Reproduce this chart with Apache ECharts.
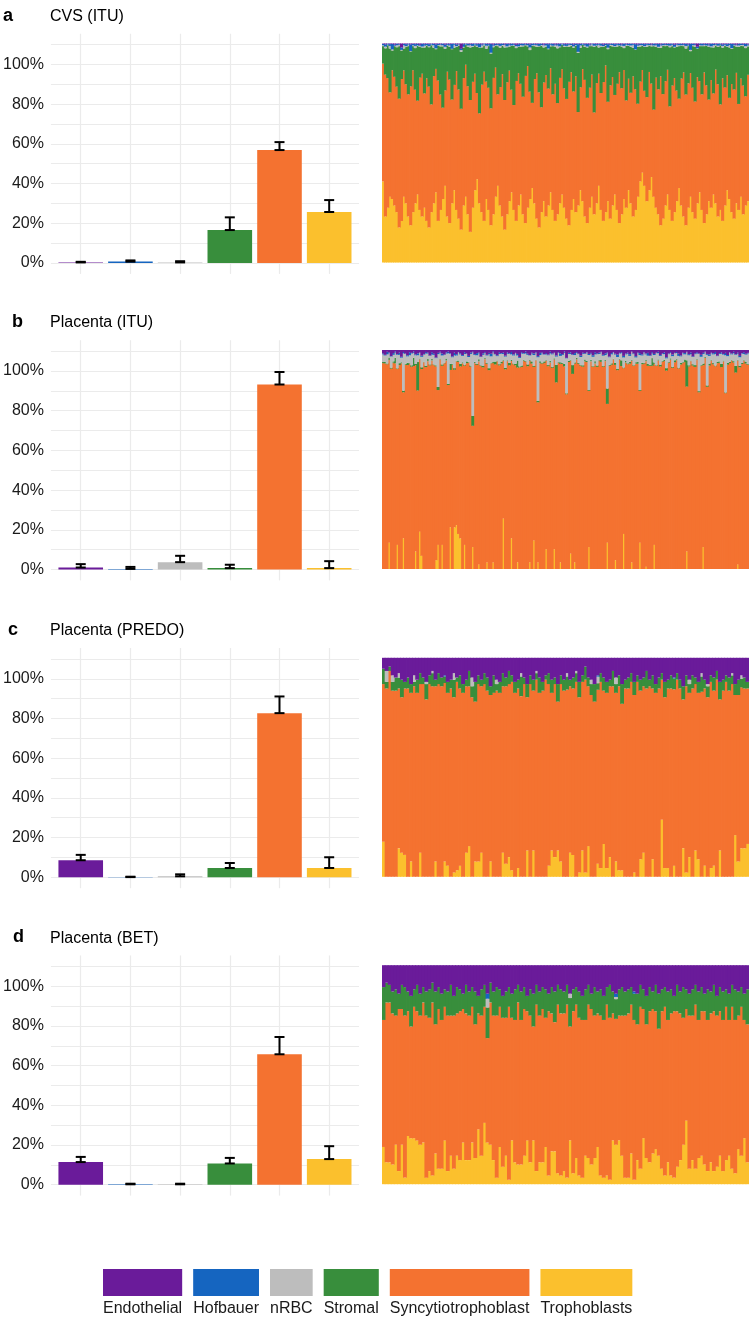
<!DOCTYPE html>
<html><head><meta charset="utf-8">
<script src="https://cdn.jsdelivr.net/npm/echarts@6/dist/echarts.min.js"></script>
<style>html,body{margin:0;padding:0;background:#fff}#c{width:749px;height:1321px}</style>
</head><body><div id="c"></div>
<script>
// ---------- categories ----------
const categories = ['Endothelial','Hofbauer','nRBC','Stromal','Syncytiotrophoblast','Trophoblasts'];
const yTickLabels = [0,20,40,60,80,100];
const yGridValues = [0,10,20,30,40,50,60,70,80,90,100,110];

// ---------- left bar charts: mean and upper error (%) ----------
const aMean  = [0.3, 0.7, 0.3, 16.6, 56.9, 25.7];
const aUpper = [0.6, 1.3, 0.9, 23.0, 60.9, 31.7];
const bMean  = [1.0, 0.3, 3.7, 0.7, 93.2, 0.7];
const bUpper = [2.7, 1.3, 6.9, 2.4, 99.5, 4.2];
const cMean  = [8.6, 0.1, 0.5, 4.7, 82.7, 4.7];
const cUpper = [11.3, 0.3, 1.5, 7.2, 91.1, 10.1];
const dMean  = [11.4, 0.2, 0.2, 10.7, 65.7, 12.9];
const dUpper = [14.0, 0.5, 0.5, 13.5, 74.4, 19.4];

// ---------- right stacked charts: per-sample proportions (%) ----------
// Panel a: CVS (ITU)
const aTroph = [37,21,25,30,29,26,23,16,19,30,27,21,17,23,27,31,24,21,25,19,
16,23,27,32,19,24,29,35,21,18,27,33,24,20,15,26,30,22,14,25,
33,38,27,23,19,29,24,17,22,30,35,26,21,15,22,28,32,24,19,26,
31,22,18,25,29,34,27,20,16,23,28,21,26,32,24,19,22,27,31,25,
20,17,24,29,23,26,33,28,21,18,25,30,22,27,35,24,19,23,28,20,
26,31,24,18,22,29,25,33,27,21,24,30,37,41,35,28,33,39,30,25,
22,17,20,26,31,24,19,23,28,34,26,21,17,25,30,23,20,27,32,24,
18,22,28,25,31,27,21,24,19,26,33,29,23,20,27,24,30,22,26,28];
const aStrom = [8,12,15,20,9,14,18,24,13,10,17,22,16,11,19,25,14,12,21,15,
18,27,13,9,16,22,28,19,12,15,23,17,11,20,26,14,9,18,24,16,
13,21,30,17,12,15,19,25,14,10,22,18,13,24,16,11,20,27,15,12,
17,23,14,9,19,26,15,12,21,28,16,13,18,10,22,17,25,14,11,19,
24,16,12,20,14,27,18,11,15,23,19,13,30,17,12,21,16,9,24,18,
14,22,17,12,19,10,25,15,21,13,18,26,16,11,20,23,12,17,29,14,
19,13,22,16,11,27,18,14,20,24,15,12,21,17,10,19,25,13,16,22,
12,18,24,15,21,11,17,27,14,19,13,23,16,20,12,26,15,18,22,13];
const aNrbc = [0.4,0.8,0.3,1.2,0.5,0.2,0.9,0.6,0.3,1.5,0.4,0.7,0.2,0.5,1.0,0.3,0.6,0.4,0.8,0.2,
0.5,0.3,1.1,0.4,0.2,0.7,0.5,0.9,0.3,0.6,0.2,1.3,0.4,0.5,0.8,0.3,0.2,0.6,1.0,0.4,
0.3,0.6,0.2,0.9,0.5,1.4,0.3,0.4,0.7,0.2,0.5,0.8,0.3,1.1,0.4,0.6,0.2,0.5,0.9,0.3,
0.7,0.4,0.2,0.5,1.2,0.3,0.6,0.8,0.2,0.4,1.0,0.5,0.3,0.7,0.2,0.6,1.3,0.4,0.3,0.5,
0.2,0.9,0.4,0.6,0.3,0.5,1.1,0.2,0.7,0.4,0.3,0.8,0.5,0.2,1.2,0.6,0.4,0.3,0.7,0.5,
0.6,0.3,0.8,0.2,0.5,1.0,0.4,0.3,0.6,1.4,0.2,0.5,0.7,0.3,0.4,0.9,0.2,0.6,0.3,0.8,
0.4,1.1,0.3,0.5,0.2,0.7,0.6,0.3,0.9,0.4,0.2,0.5,1.2,0.3,0.6,0.4,0.8,0.2,0.5,0.3,
0.5,0.2,0.7,0.4,1.0,0.3,0.6,0.2,0.8,0.5,0.3,1.1,0.4,0.2,0.6,0.7,0.3,0.5,0.9,0.4];
const aHof = [0.6,1.0,0.4,0.8,2.5,0.5,0.7,0.3,1.1,0.6,0.9,0.4,3.0,0.5,0.8,0.6,0.4,1.3,0.7,0.5,
0.9,0.4,0.6,1.8,0.5,0.3,0.7,1.0,0.4,0.6,2.2,0.5,0.8,0.3,0.6,1.2,0.4,0.7,0.5,0.9,
0.4,0.7,1.5,0.5,0.3,0.8,0.6,4.0,0.5,0.7,0.4,0.9,0.6,0.3,1.1,0.5,0.8,0.4,0.6,1.0,
0.5,0.8,0.3,0.6,1.4,0.7,0.4,0.5,0.9,0.6,0.3,0.7,2.0,0.5,0.8,0.4,0.6,1.1,0.3,0.7,
0.8,0.4,0.6,0.9,0.5,3.5,0.7,0.4,0.6,1.2,0.5,0.3,0.8,0.6,0.4,0.9,0.7,0.5,1.6,0.4,
0.6,0.9,0.4,0.7,0.5,1.0,0.3,0.6,0.8,0.4,2.4,0.6,0.5,0.7,0.9,0.4,0.6,0.3,0.8,0.5,
1.3,0.5,0.7,0.4,0.6,0.8,0.5,1.0,0.3,0.6,0.7,0.4,0.9,0.5,2.8,0.6,0.4,0.7,0.5,0.8,
0.4,0.7,0.5,1.2,0.6,0.3,0.8,0.5,0.7,0.4,0.9,0.6,1.9,0.5,0.3,0.7,0.6,0.4,1.0,0.5];
const aEndo = [0.2,0.4,0.1,0.3,0.2,0.5,0.1,0.3,1.8,0.2,0.3,0.1,0.4,0.2,0.3,0.2,0.6,0.1,0.3,0.2,
0.3,0.1,0.2,0.4,0.2,0.3,0.1,0.5,0.2,0.3,0.2,0.1,0.4,0.2,2.4,0.3,0.1,0.2,0.3,0.2,
0.1,0.3,0.2,0.4,0.1,0.2,0.3,0.2,0.5,0.1,0.3,0.2,0.1,0.4,0.2,0.3,0.1,0.2,0.6,0.3,
0.2,0.1,0.3,0.2,0.4,0.1,0.2,0.3,0.2,0.1,0.5,0.2,0.3,0.1,0.2,0.4,0.3,0.2,0.1,0.3,
0.3,0.2,0.1,0.4,0.2,0.3,0.2,0.1,0.3,0.2,0.4,0.1,0.2,0.3,0.2,0.1,0.5,0.2,0.3,0.2,
0.1,0.3,0.2,0.2,0.4,0.1,0.3,0.2,0.1,0.2,0.3,0.4,0.2,0.1,0.3,0.2,0.2,0.4,0.1,0.3,
0.2,0.4,0.1,0.3,0.2,0.2,0.1,0.5,0.3,0.2,0.1,0.3,0.2,0.4,0.1,0.2,0.3,1.5,0.2,0.1,
0.3,0.2,0.4,0.1,0.2,0.3,0.2,0.1,0.4,0.2,0.3,0.1,0.2,0.3,0.5,0.2,0.1,0.3,0.2,0.4];

// Panel b: Placenta (ITU)
const bEndo = [1.5,2.2,0.8,1.1,2.8,1.4,0.6,1.9,1.2,3.1,0.9,1.6,2.4,1.0,1.3,0.7,2.0,1.5,1.1,2.6,
1.8,0.9,1.2,2.5,1.0,1.7,3.4,1.3,0.8,1.6,2.1,1.1,0.7,1.4,2.9,1.2,1.9,0.9,1.5,2.3,
1.0,1.6,2.7,1.2,0.8,1.9,1.4,1.1,3.0,1.5,0.9,2.2,1.3,1.7,0.6,1.8,2.4,1.0,1.4,1.2,
2.6,1.1,1.5,0.9,2.0,1.3,1.8,3.2,1.0,1.4,0.7,1.7,2.3,1.2,1.6,0.9,2.8,1.3,1.1,1.9,
1.4,2.1,0.8,1.6,1.2,2.5,1.0,1.5,1.9,0.7,3.6,1.3,1.1,2.0,1.4,0.9,1.7,2.6,1.2,1.5,
0.9,1.8,1.3,2.4,1.0,1.6,1.2,0.8,2.2,1.5,1.1,3.0,1.4,0.9,1.7,2.1,1.3,1.0,2.7,1.6,
1.2,1.9,0.7,1.5,2.8,1.1,1.4,2.0,0.9,1.6,1.3,2.4,1.0,1.8,1.2,0.8,2.3,1.5,1.1,3.3,
1.6,1.0,2.1,1.3,0.9,1.7,2.5,1.2,1.4,0.8,1.9,1.1,2.9,1.5,1.0,1.6,2.2,1.3,0.7,1.8,
2.0,1.2,1.5,0.9,2.6,1.4,1.1,1.8,1.3,2.3,1.0,1.6,0.8,1.9,1.2,2.7,1.4,1.0,1.7,1.3];
const bHof = [0.5,0.3,1.2,0.4,0.2,0.8,0.6,0.3,1.0,0.4,0.7,0.2,0.5,1.4,0.3,0.6,0.4,0.9,0.2,0.5,
0.3,0.7,0.4,0.2,1.1,0.5,0.3,0.6,0.4,0.9,0.2,0.5,0.8,0.3,0.4,1.3,0.6,0.2,0.5,0.4,
0.8,0.2,0.5,0.6,0.3,0.4,1.0,0.5,0.2,0.7,0.4,0.3,0.6,1.2,0.5,0.2,0.4,0.8,0.3,0.6,
0.4,0.6,0.3,1.1,0.5,0.2,0.7,0.4,0.6,0.3,0.9,0.5,0.2,0.4,0.7,0.3,0.5,1.0,0.4,0.2,
0.6,0.3,0.8,0.4,0.2,0.5,0.3,1.2,0.4,0.6,0.2,0.5,0.7,0.3,0.9,0.4,0.2,0.6,0.5,0.3,
0.2,0.5,0.4,0.7,1.0,0.3,0.6,0.2,0.4,0.8,0.5,0.3,0.6,0.2,0.4,1.1,0.3,0.5,0.7,0.4,
0.5,0.8,0.2,0.4,0.6,0.3,0.9,0.5,0.2,0.4,1.3,0.3,0.6,0.5,0.2,0.7,0.4,0.3,0.8,0.5,
0.3,0.4,0.7,0.2,0.5,1.0,0.4,0.3,0.6,0.2,0.5,0.8,0.3,0.4,0.6,0.2,0.9,0.5,0.3,0.4,
0.7,0.3,0.5,0.9,0.2,0.4,0.6,0.3,1.1,0.5,0.2,0.4,0.7,0.3,0.5,0.6,0.2,0.8,0.4,0.3];
const bNrbc = [3.5,2.8,4.2,1.9,5.1,3.0,2.4,6.2,3.8,2.1,17,4.5,2.9,3.6,5.4,2.2,4.0,3.1,2.6,4.8,
3.2,5.6,2.5,3.9,2.0,4.4,3.3,15,2.7,4.1,3.5,2.3,14,4.6,3.0,5.8,2.4,3.7,4.3,2.9,
4.9,3.4,2.2,5.3,29,3.1,4.0,2.6,3.8,5.0,2.4,3.5,6.4,2.9,4.2,3.3,2.0,4.7,3.6,2.8,
5.2,3.0,4.1,2.5,3.7,4.8,2.3,3.9,5.5,2.7,3.4,4.4,2.1,3.6,4.9,3.2,20,2.8,4.3,3.1,
2.6,4.5,3.3,5.7,2.4,3.8,4.2,2.9,3.5,5.0,16,3.1,2.7,4.6,3.4,2.2,4.0,3.7,5.3,2.5,
3.9,16,2.8,4.3,3.1,5.2,2.6,3.6,4.7,2.3,16,3.5,4.1,2.9,3.8,5.5,2.4,3.2,4.6,3.0,
4.4,2.7,3.5,5.1,2.2,3.9,16,3.3,4.8,2.6,3.7,4.2,2.1,3.4,5.6,2.8,4.0,3.1,2.5,4.5,
3.6,2.4,4.9,3.2,2.8,5.4,3.0,4.1,2.3,3.7,4.6,2.9,3.3,5.0,2.6,17,3.8,4.4,2.2,14,
3.5,2.9,4.0,5.3,2.5,3.4,4.7,2.7,17,3.1,4.2,2.4,3.6,5.1,2.8,3.9,4.3,2.6,3.2,4.8];
const bStrom = [0.5,0.8,0.3,1.2,0.4,0.6,2.5,0.3,0.9,0.5,0.7,0.4,1.1,0.3,0.6,3.8,0.5,13,0.4,0.8,
0.3,0.6,1.0,0.4,0.7,0.3,0.5,1.4,0.4,0.6,0.3,0.9,0.5,2.8,0.4,0.7,0.3,0.6,1.2,0.5,
0.4,0.8,0.3,0.5,4.5,0.6,0.4,1.0,0.3,0.7,0.5,0.4,0.9,0.3,0.6,1.3,0.4,0.5,0.8,0.3,
0.6,0.4,1.1,0.5,0.3,0.7,3.2,0.4,0.6,0.5,0.3,0.8,0.4,1.0,0.5,0.3,0.6,0.9,0.4,0.7,
0.3,0.5,0.8,0.4,0.6,8,0.3,0.7,0.5,1.2,0.4,0.6,0.3,4.0,0.5,0.8,0.4,0.3,0.6,0.9,
0.5,0.4,0.7,0.3,1.1,0.6,0.4,0.8,0.3,0.5,7,0.4,0.6,0.3,0.9,0.5,0.4,2.6,0.3,0.7,
0.4,0.8,0.5,0.3,0.6,1.0,0.4,0.7,0.3,0.5,0.9,0.4,3.5,0.6,0.3,0.5,0.8,0.4,0.6,1.1,
0.3,0.6,0.4,0.9,0.5,0.3,0.7,0.4,1.2,12,0.5,0.3,0.6,0.8,0.4,0.5,0.3,0.7,0.4,0.6,
0.9,0.4,0.5,0.3,0.7,0.6,1.4,0.4,0.3,0.8,0.5,0.4,0.6,3.0,0.3,0.7,0.5,0.4,0.9,0.3];
// trophoblast spikes [sample index, %] (all other samples 0)
const bTrophSpikes = [[3,12],[7,11],[10,14],[16,8],[18,17],[19,6],[26,4],[27,11],[29,11],[33,19],
[35,19],[36,20],[37,16],[38,14],[40,11],[44,10],[47,2],[51,3],[54,3],[59,23],[63,14],[66,3],
[72,3],[74,13],[76,3],[80,9],[84,9],[87,3],[92,7],[94,3],[101,10],[110,12],[114,4],[118,16],
[122,3],[126,12],[129,1],[133,11],[149,8],[157,10],[174,2]];

// Panel c: Placenta (PREDO)
const cTroph = [16,0,0,0,0,13,11,10,0,7,0,0,11,0,0,0,0,7,0,0,
7,5,0,2,3,5,0,11,14,0,7,7,11,0,0,7,0,0,0,11,
6,9,3,0,4,0,0,12,0,12,0,0,0,0,5,12,9,12,7,0,
0,11,10,0,2,12,2,14,0,0,6,4,15,4,9,0,7,3,3,0,
0,0,2,0,8,11,0,0,8,0,0,26,4,4,0,5,0,0,13,2,
9,0,12,8,0,5,0,4,5,0,12,0,0,0,0,19,7,13,13,15];
const cEndo = [5,6,4,8,9,7,10,11,9,12,8,10,7,9,11,8,6,10,7,9,
8,11,10,7,9,8,12,10,6,9,11,8,10,7,9,13,8,10,11,7,
9,6,8,11,10,7,9,12,8,10,6,9,11,8,7,10,9,12,8,10,
7,10,9,6,11,8,4,9,10,12,8,7,9,11,10,6,9,8,12,10,
9,7,11,8,10,9,6,10,8,12,9,7,11,10,8,9,7,10,13,8,
10,8,9,11,7,10,12,8,9,6,11,10,8,9,7,12,10,8,9,11];
const cStrom = [7,3,2,4,6,5,8,3,5,4,2,6,5,3,7,4,6,3,5,4,
3,5,4,8,2,6,4,3,7,5,9,4,3,5,6,4,8,3,5,6,
4,6,3,5,4,9,3,6,4,5,3,7,4,2,5,6,3,8,4,5,
6,3,5,4,7,3,6,4,5,8,3,4,6,5,3,7,4,5,9,4,
5,4,6,3,5,4,8,3,6,4,5,3,7,4,6,5,3,4,6,5,
4,6,3,5,7,4,5,3,6,4,8,5,3,6,4,5,7,4,5,3];
const cNrbcSpots = [[1,5],[3,3],[5,2],[10,3],[14,1],[16,1],[23,3],[29,4],[37,2],[45,1.5],[50,1],
[60,1.5],[63,1],[68,2],[70,3],[76,3],[100,2],[104,1.5],[106,1],[114,1],[117,1.5]];
const cHofSpots = [[20,0.5],[70,0.6],[95,0.4]];

// Panel d: Placenta (BET)
const dTroph = [17,10,10,9,18,6,18,3,22,21,21,20,18,19,3,6,4,14,7,7,
20,6,13,7,13,11,19,11,11,19,12,25,13,28,19,18,11,3,17,8,
13,2,20,10,9,9,13,20,10,20,6,10,10,17,4,15,15,5,4,6,
3,20,5,12,4,3,13,12,9,12,17,4,3,4,2,20,18,20,13,3,
3,14,2,11,7,21,12,10,14,16,13,7,4,10,4,3,8,11,18,29,
7,11,7,12,13,9,6,10,6,8,13,6,11,13,7,5,16,13,21,10];
const dEndo = [10,8,9,12,11,13,9,10,12,14,11,9,13,10,12,11,8,12,10,13,
11,12,9,14,10,11,13,9,12,10,12,14,11,9,13,8,12,10,11,14,
12,10,13,11,9,12,10,14,11,13,9,12,10,11,13,10,12,9,11,12,
9,13,11,10,12,14,11,9,13,10,12,11,14,10,9,12,13,11,10,12,
11,10,12,13,9,11,14,10,12,9,13,11,10,12,11,14,9,12,10,11,
13,11,9,12,10,13,11,12,9,14,10,12,11,13,9,11,12,10,13,11];
const dStrom = [15,9,8,10,12,7,11,13,9,14,8,12,10,7,11,13,9,15,10,12,
8,11,14,9,12,10,7,13,11,9,15,8,12,10,14,9,11,13,8,10,
12,9,11,14,8,13,10,7,12,15,9,11,10,13,8,12,14,9,11,10,
9,13,10,8,12,11,14,9,7,13,10,12,11,8,15,10,9,12,13,11,
11,8,12,14,10,9,13,11,8,12,16,10,9,13,11,7,12,10,14,9,
10,12,9,13,11,8,14,10,12,9,11,13,8,12,10,14,11,9,12,16];
const dNrbcSpots = [[34,4],[61,2],[76,1]];
const dHofSpots = [[34,2.3],[76,1.5],[82,1]];

// ---------- styling ----------
const FONT = '"Liberation Sans", Arial, Helvetica, sans-serif';
const COLORS = {Endothelial:'#6A1B9A', Hofbauer:'#1565C0', nRBC:'#BDBDBD', Stromal:'#388E3C',
  Syncytiotrophoblast:'#F47230', Trophoblasts:'#FBC02D'};
const STACK_ORDER = ['Trophoblasts','Syncytiotrophoblast','Stromal','nRBC','Hofbauer','Endothelial'];
const GRID_COLOR = '#EBEBEB';

function fromSpots(n, spots){ const a = new Array(n).fill(0); spots.forEach(([i,v]) => { a[i] = v; }); return a; }
function withRemainder(parts){ // Syncytiotrophoblast = what is left of each sample's 100%
  const n = parts.Trophoblasts.length; const out = [];
  for (let i=0;i<n;i++){ let s=0; ['Trophoblasts','Stromal','nRBC','Hofbauer','Endothelial'].forEach(k=>{ s += parts[k][i]; }); out.push(+(100-s).toFixed(2)); }
  parts.Syncytiotrophoblast = out; return parts;
}

const panels = [
  {letter:'a', letterX:3, title:'CVS (ITU)', mean:aMean, upper:aUpper, zero:263,
   samples: withRemainder({Trophoblasts:aTroph, Stromal:aStrom, nRBC:aNrbc, Hofbauer:aHof, Endothelial:aEndo})},
  {letter:'b', letterX:12, title:'Placenta (ITU)', mean:bMean, upper:bUpper, zero:569.5,
   samples: withRemainder({Trophoblasts:fromSpots(bEndo.length, bTrophSpikes), Stromal:bStrom, nRBC:bNrbc, Hofbauer:bHof, Endothelial:bEndo})},
  {letter:'c', letterX:8, title:'Placenta (PREDO)', mean:cMean, upper:cUpper, zero:877.3,
   samples: withRemainder({Trophoblasts:cTroph, Stromal:cStrom, nRBC:fromSpots(cTroph.length, cNrbcSpots), Hofbauer:fromSpots(cTroph.length, cHofSpots), Endothelial:cEndo})},
  {letter:'d', letterX:13, title:'Placenta (BET)', mean:dMean, upper:dUpper, zero:1184.7,
   samples: withRemainder({Trophoblasts:dTroph, Stromal:dStrom, nRBC:fromSpots(dTroph.length, dNrbcSpots), Hofbauer:fromSpots(dTroph.length, dHofSpots), Endothelial:dEndo})}
];

const K = 1.985; // px per percent
const RIGHT_W = 367;
const grid = [], xAxis = [], yAxis = [], series = [], title = [];

panels.forEach((p, pi) => {
  const gL = pi*2, gR = pi*2+1;
  grid.push({left:49, width:310, top:p.zero - 115.5*K, height:121*K});
  grid.push({left:382, width:RIGHT_W, top:p.zero - 219.5, height:219});
  xAxis.push({type:'value', gridIndex:gL, min:0.4, max:6.6,
    axisLine:{show:false}, axisLabel:{show:false},
    axisTick:{show:false, customValues:[1,2,3,4,5,6]},
    splitLine:{show:true, lineStyle:{color:GRID_COLOR, width:1.2}}});
  yAxis.push({type:'value', gridIndex:gL, min:-5.5, max:115.5,
    axisLine:{show:false},
    axisTick:{show:false, customValues:yGridValues},
    axisLabel:{customValues:yTickLabels, formatter:'{value}%', fontSize:16, color:'#1a1a1a', fontFamily:FONT, margin:7},
    splitLine:{show:true, lineStyle:{color:GRID_COLOR, width:1.2}}});
  const n = p.samples.Trophoblasts.length;
  xAxis.push({type:'category', gridIndex:gR, data:Array.from({length:n}, (_, i) => 'S'+(i+1)), show:false});
  yAxis.push({type:'value', gridIndex:gR, min:0, max:100, show:false});

  series.push({type:'bar', xAxisIndex:gL, yAxisIndex:gL, barWidth:44.6, silent:true,
    data: categories.map((c, i) => ({value:[i+1, p.mean[i]], itemStyle:{color:COLORS[c]}}))});
  series.push({type:'custom', xAxisIndex:gL, yAxisIndex:gL, silent:true, z:5,
    encode:{x:0, y:[1,2]},
    data: categories.map((c, i) => [i+1, p.mean[i], p.upper[i]]),
    renderItem: function(params, api){
      const x = api.value(0);
      const lo = api.coord([x, api.value(1)]);
      const hi = api.coord([x, api.value(2)]);
      const hw = 5, st = {stroke:'#000', lineWidth:2};
      return {type:'group', children:[
        {type:'line', shape:{x1:lo[0], y1:lo[1], x2:hi[0], y2:hi[1]}, style:st},
        {type:'line', shape:{x1:lo[0]-hw, y1:lo[1], x2:lo[0]+hw, y2:lo[1]}, style:st},
        {type:'line', shape:{x1:hi[0]-hw, y1:hi[1], x2:hi[0]+hw, y2:hi[1]}, style:st}
      ]};
    }});
  // bars slightly wider than their band so neighbouring samples overlap (no anti-alias seams)
  const bw = RIGHT_W / n + 0.8;
  STACK_ORDER.forEach(name => {
    series.push({type:'bar', name:name, xAxisIndex:gR, yAxisIndex:gR, stack:'s'+pi,
      barWidth:bw, silent:true,
      itemStyle:{color:COLORS[name]},
      data:p.samples[name]});
  });
  title.push({text:p.letter, left:p.letterX, top:p.zero - 256.3, padding:0,
    textStyle:{fontSize:18, fontWeight:'bold', fontFamily:FONT, color:'#000'}});
  title.push({text:p.title, left:50, top:p.zero - 254.6, padding:0,
    textStyle:{fontSize:16, fontWeight:'normal', fontFamily:FONT, color:'#000'}});
});

// ---------- legend (keys as wide as their labels, labels below) ----------
const ctx = document.createElement('canvas').getContext('2d');
ctx.font = '16px ' + FONT;
const legendChildren = [];
let lx = 103; const LGAP = 11;
categories.forEach(c => {
  const w = ctx.measureText(c).width;
  legendChildren.push({type:'rect', shape:{x:lx, y:1269, width:w, height:27}, style:{fill:COLORS[c]}});
  legendChildren.push({type:'text', style:{text:c, x:lx, y:1301, font:'16px ' + FONT, fill:'#1a1a1a', textVerticalAlign:'top'}});
  lx += w + LGAP;
});

const chart = echarts.init(document.getElementById('c'), null, {renderer:'canvas'});
chart.setOption({
  animation:false, backgroundColor:'#fff',
  title, grid, xAxis, yAxis, series,
  graphic:[{type:'group', children:legendChildren}]
});
</script></body></html>
